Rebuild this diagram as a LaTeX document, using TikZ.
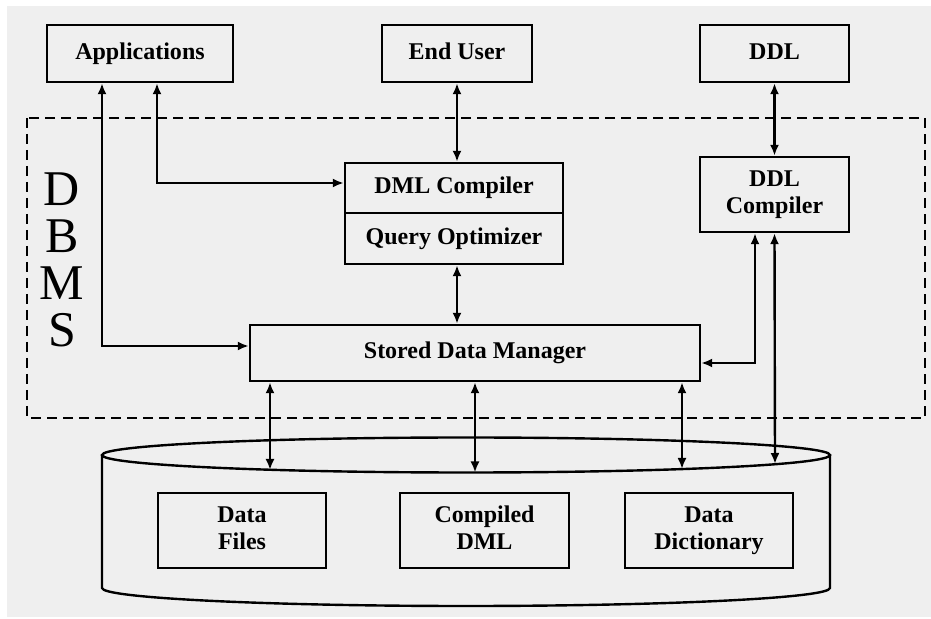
\documentclass[tikz,border=0pt]{standalone}
\usepackage{fontspec}
\setmainfont{Liberation Serif}
\usetikzlibrary{arrows.meta}
\definecolor{bggray}{RGB}{239,239,239}

\begin{document}
\begin{tikzpicture}[x=0.5pt,y=0.5pt,yscale=-1,xscale=1,
  box/.style={draw,line width=1.2pt,fill=bggray,inner sep=1pt,align=center,text depth=2.5pt,font=\fontsize{12}{13.5}\selectfont\bfseries},
  single/.style={box,text height=8.5pt},
  link/.style={line width=1.2pt,{Latex[length=5.5pt,width=4.5pt]}-{Latex[length=5.5pt,width=4.5pt]}}]
\useasboundingbox (0,0) rectangle (931,619);
\fill[bggray] (7,6) rectangle (931,617);

%Shape: Dashed Rectangle
\draw [line width=1.2pt,dash pattern=on 5pt off 3pt] (27,118) rectangle (925,418);

% Text Node
\node [font=\fontsize{25}{23.5}\selectfont,align=center,inner sep=0pt] (dbms) at (62,260) {D\\B\\M\\S};

% Top boxes
\node [single,minimum width=93pt,minimum height=28.5pt] (apps) at (140,53.5) {Applications};
\node [single,minimum width=75pt,minimum height=28.5pt] (user) at (457,53.5) {End User};
\node [single,minimum width=74.5pt,minimum height=28.5pt] (ddl) at (774.5,53.5) {DDL};

% DBMS boxes
\node [single,minimum width=109pt,minimum height=25pt] (dml) at (454,188) {DML Compiler};
\node [single,minimum width=109pt,minimum height=25.5pt] (qopt) at (454,238.5) {Query Optimizer};
\node [box,minimum width=74.5pt,minimum height=37.5pt] (ddlc) at (774.5,194.5) {DDL\\Compiler};
\node [single,minimum width=225pt,minimum height=28pt] (sdm) at (475,353) {Stored Data Manager};

%Shape: Cylinder
\draw [line width=1.2pt,fill=bggray] (102,455) -- (102,588) arc [start angle=180,end angle=0,x radius=364,y radius=18] -- (830,455);
\draw [line width=1.2pt,fill=bggray] (466,455) ellipse [x radius=364,y radius=17.5];

% Stored files
\node [box,minimum width=84pt,minimum height=37.5pt] (files) at (242,530.5) {Data\\Files};
\node [box,minimum width=84.5pt,minimum height=37.5pt] (cdml) at (484.5,530.5) {Compiled\\DML};
\node [box,minimum width=84pt,minimum height=37.5pt] (dict) at (709,530.5) {Data\\Dictionary};

% points on the disk rim
\coordinate (rimA) at (270,470);
\coordinate (rimB) at (475,472.5);
\coordinate (rimC) at (682,469);
\coordinate (rimD) at (775,464);

%Straight Lines
\draw [link] ([xshift=-19pt]apps.south) |- ([yshift=-3.5pt]sdm.west);
\draw [link] ([xshift=8.5pt]apps.south) |- ([yshift=-2.5pt]dml.west);
\draw [link] (user.south) -- (user.south |- dml.north);
\draw [link] (user.south |- qopt.south) -- (user.south |- sdm.north);
\draw [link] (ddl.south) -- (ddlc.north);
\draw [link] ([xshift=-9.75pt]ddlc.south) |- ([yshift=5pt]sdm.east);
\draw [link] (ddlc.south) -- (rimD);
\draw [link] (sdm.south -| rimA) -- (rimA);
\draw [link] (sdm.south -| rimB) -- (rimB);
\draw [link] (sdm.south -| rimC) -- (rimC);

\end{tikzpicture}
\end{document}
